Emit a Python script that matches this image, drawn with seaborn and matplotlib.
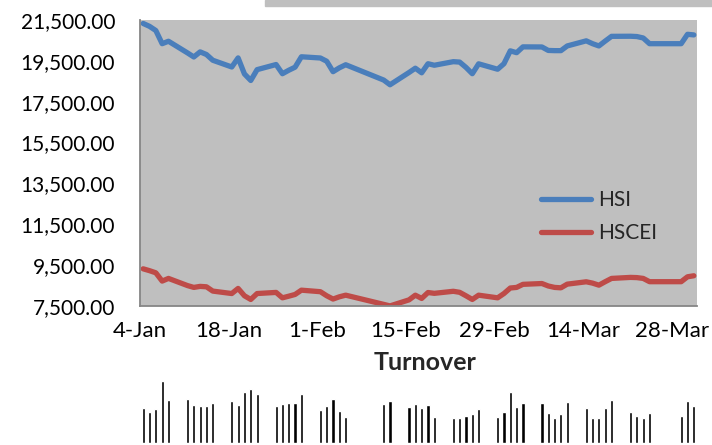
import matplotlib
matplotlib.use("Agg")
import matplotlib.pyplot as plt
from matplotlib.patches import Rectangle
import pandas as pd
import seaborn as sns

# trading days, Q1 2016
dates = ["2016-01-04", "2016-01-05", "2016-01-06", "2016-01-07", "2016-01-08",
         "2016-01-11", "2016-01-12", "2016-01-13", "2016-01-14", "2016-01-15",
         "2016-01-18", "2016-01-19", "2016-01-20", "2016-01-21", "2016-01-22",
         "2016-01-25", "2016-01-26", "2016-01-27", "2016-01-28", "2016-01-29",
         "2016-02-01", "2016-02-02", "2016-02-03", "2016-02-04", "2016-02-05",
         "2016-02-11", "2016-02-12",
         "2016-02-15", "2016-02-16", "2016-02-17", "2016-02-18", "2016-02-19",
         "2016-02-22", "2016-02-23", "2016-02-24", "2016-02-25", "2016-02-26",
         "2016-02-29", "2016-03-01", "2016-03-02", "2016-03-03", "2016-03-04",
         "2016-03-07", "2016-03-08", "2016-03-09", "2016-03-10", "2016-03-11",
         "2016-03-14", "2016-03-15", "2016-03-16", "2016-03-17", "2016-03-18",
         "2016-03-21", "2016-03-22", "2016-03-23", "2016-03-24",
         "2016-03-29", "2016-03-30", "2016-03-31"]

hsi = [21330, 21190, 20985, 20340, 20460,
       19890, 19690, 19940, 19810, 19530,
       19200, 19645, 18860, 18540, 19070,
       19320, 18870, 19040, 19190, 19700,
       19640, 19480, 18970, 19160, 19310,
       18560, 18330,
       18930, 19140, 18915, 19360, 19285,
       19460, 19440, 19180, 18870, 19355,
       19090, 19360, 19990, 19900, 20185,
       20180, 20010, 20000, 20000, 20230,
       20480, 20340, 20230, 20470, 20700,
       20705, 20690, 20620, 20340,
       20340, 20800, 20770]

hscei = [9320, 9230, 9125, 8720, 8850,
         8500, 8410, 8460, 8440, 8230,
         8110, 8360, 8000, 7820, 8110,
         8165, 7900, 7980, 8065, 8275,
         8200, 8000, 7840, 7950, 8030,
         7580, 7505,
         7800, 8030, 7870, 8160, 8120,
         8220, 8170, 8000, 7820, 8030,
         7900, 8110, 8380, 8410, 8560,
         8600, 8480, 8410, 8390, 8570,
         8685, 8620, 8520, 8690, 8850,
         8900, 8890, 8850, 8690,
         8690, 8930, 8980]

turnover = [35.3, 30.7, 33.7, 62.0, 42.7,
            43.7, 38.0, 37.0, 37.0, 40.0,
            42.3, 38.0, 50.7, 53.7, 49.3,
            37.0, 38.7, 39.7, 39.7, 48.7,
            32.7, 37.0, 43.7, 32.3, 25.7,
            38.7, 42.0,
            36.3, 39.0, 35.3, 38.3, 26.3,
            24.7, 24.7, 27.0, 29.0, 33.7,
            26.3, 30.7, 50.7, 36.3, 39.7,
            40.3, 29.7, 24.7, 29.0, 40.7,
            35.3, 24.7, 24.7, 34.7, 43.0,
            31.3, 27.0, 24.7, 30.3,
            27.0, 42.3, 37.0]

tick_dates = ["2016-01-04", "2016-01-18", "2016-02-01", "2016-02-15",
              "2016-02-29", "2016-03-14", "2016-03-28"]
tick_labels = ["4-Jan", "18-Jan", "1-Feb", "15-Feb", "29-Feb", "14-Mar", "28-Mar"]

sns.set_style("white")
plt.rcParams["font.family"] = ["Lato", "DejaVu Sans"]

# points sit in the middle of each day, like an Excel date axis
day = pd.to_datetime(dates) + pd.Timedelta(hours=12)
df = pd.DataFrame({"date": day, "HSI": hsi, "HSCEI": hscei})
long = df.melt(id_vars="date", var_name="series", value_name="value")

W, H = 712, 445
fig = plt.figure(figsize=(W / 100, H / 100), dpi=100)

ax = fig.add_axes([140 / W, (H - 306) / H, 557 / W, 286 / H])
ax.set_facecolor("#BFBFBF")
sns.lineplot(data=long, x="date", y="value", hue="series",
             palette={"HSI": "#4A7EBB", "HSCEI": "#BE4B48"},
             linewidth=3.8, solid_capstyle="round", solid_joinstyle="round",
             ax=ax)

ax.set_xlim(pd.Timestamp("2016-01-04"), pd.Timestamp("2016-04-01"))
ax.set_ylim(7500, 21500)
ax.set_yticks(range(7500, 21501, 2000))
ax.yaxis.set_major_formatter(lambda v, p: f"{v:,.2f}")
ax.set_xticks(pd.to_datetime(tick_dates))
ax.set_xticklabels(tick_labels)
ax.set_xlabel("")
ax.set_ylabel("")
for s in ["top", "right"]:
    ax.spines[s].set_visible(False)
for s in ["left", "bottom"]:
    ax.spines[s].set_color("#868686")
    ax.spines[s].set_linewidth(1.3)
ax.tick_params(axis="both", direction="out", length=6, width=1.3,
               color="#868686", labelcolor="black")
ax.tick_params(axis="y", pad=12, labelsize=15)
ax.tick_params(axis="x", pad=5, labelsize=16)

handles, labels = ax.get_legend_handles_labels()
ax.legend(handles, labels, loc="upper left", frameon=False,
          bbox_to_anchor=(531 / W, 1 - 180 / H), bbox_transform=fig.transFigure,
          borderpad=0, handlelength=2.4, handletextpad=0.3, labelspacing=0.6,
          fontsize=15)

fig.text(425 / W, 1 - 362 / H, "Turnover", ha="center", va="center",
         fontsize=18, fontweight="bold")

# cropped turnover bars below
bx = fig.add_axes([140 / W, 2 / H, 557 / W, 73 / H])
bx.bar(day, turnover, width=0.5, color="black")
bx.set_xlim(pd.Timestamp("2016-01-04"), pd.Timestamp("2016-04-01"))
bx.set_ylim(0, 73)
bx.axis("off")

# edge of a grey box cropped at the top
fig.patches.append(Rectangle((265 / W, 1 - 5.7 / H), 447 / W, 5.7 / H,
                             transform=fig.transFigure, color="#BFBFBF"))

fig.savefig("out.png", dpi=100)
